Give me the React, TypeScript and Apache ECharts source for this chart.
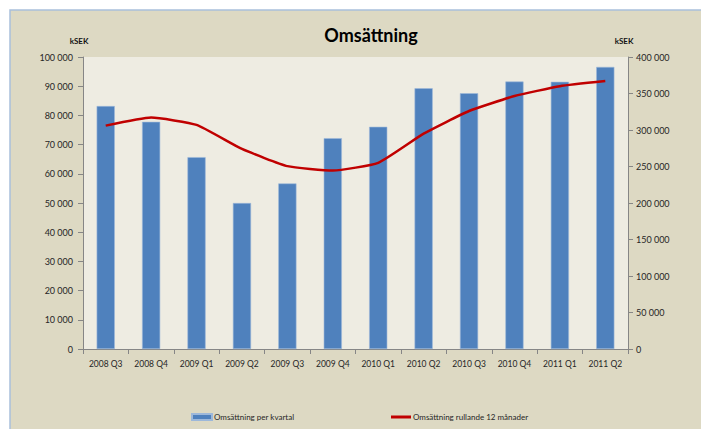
import React, { useEffect, useRef } from "react";
import * as echarts from "echarts";

const categories = [
  "2008 Q3", "2008 Q4", "2009 Q1", "2009 Q2", "2009 Q3", "2009 Q4",
  "2010 Q1", "2010 Q2", "2010 Q3", "2010 Q4", "2011 Q1", "2011 Q2",
];
const quarterly = [83200, 77800, 65700, 50000, 56700, 72200, 76100, 89300, 87600, 91600, 91500, 96600];
const rolling12 = [306000, 317000, 307000, 274000, 250500, 244500, 255000, 295000, 326000, 346500, 360000, 367000];
const barName = "Omsättning per kvartal";
const lineName = "Omsättning rullande 12 månader";

const fmt = (v: number) => {
  const s = String(Math.round(v));
  return s.replace(/\B(?=(\d{3})+(?!\d))/g, "\u202F");
};

export default function App() {
  const ref = useRef<HTMLDivElement>(null);
  useEffect(() => {
    document.body.style.margin = "0";
    const chart = echarts.init(ref.current!, null, { renderer: "svg" });
    const font = "Lato, 'Open Sans', sans-serif";
    const txt = "#262626";
    chart.setOption({
      animation: false,
      backgroundColor: "#ffffff",
      textStyle: { fontFamily: font },
      graphic: [
        {
          type: "rect",
          shape: { x: 10, y: 10, width: 760, height: 480 },
          style: { fill: "#DDD9C3", stroke: "#A9C0DC", lineWidth: 1.5 },
          z: -10,
        },
        {
          type: "text",
          style: { text: "kSEK", x: 79, y: 41, align: "center", verticalAlign: "middle", font: `bold 8px ${font}`, fill: "#111" },
        },
        {
          type: "text",
          style: { text: "kSEK", x: 624, y: 41, align: "center", verticalAlign: "middle", font: `bold 8px ${font}`, fill: "#111" },
        },
      ],
      title: {
        text: "Omsättning",
        left: 366,
        textAlign: "center",
        top: 21,
        textStyle: { fontFamily: font, fontSize: 18, fontWeight: "bold", color: "#000" },
      },
      legend: [
        {
          data: [barName],
          left: 186,
          top: 408,
          itemWidth: 20,
          itemHeight: 6,
          textStyle: { fontSize: 8, color: txt, fontFamily: font, padding: [0, 0, 0, -3] },
          icon: "rect",
        },
        {
          data: [lineName],
          left: 386,
          top: 408,
          itemWidth: 20,
          itemHeight: 3,
          icon: "rect",
          textStyle: { fontSize: 8, color: txt, fontFamily: font, padding: [0, 0, 0, -3] },
        },
      ],
      grid: { left: 83, right: 73, top: 57, bottom: 80, show: true, backgroundColor: "#EEECE2", borderWidth: 0 },
      xAxis: {
        type: "category",
        data: categories,
        axisLine: { lineStyle: { color: "#868686", width: 1 } },
        axisTick: { show: true, length: 5, lineStyle: { color: "#868686" } },
        axisLabel: { color: txt, fontSize: 8.5, margin: 10, fontFamily: font, interval: 0 },
      },
      yAxis: [
        {
          type: "value",
          min: 0,
          max: 100000,
          interval: 10000,
          position: "left",
          axisLine: { show: true, lineStyle: { color: "#868686" } },
          axisTick: { show: true, length: 5, lineStyle: { color: "#868686" } },
          splitLine: { show: false },
          axisLabel: { color: txt, fontSize: 9, margin: 10, formatter: fmt, fontFamily: font },
        },
        {
          type: "value",
          min: 0,
          max: 400000,
          interval: 50000,
          position: "right",
          axisLine: { show: true, lineStyle: { color: "#868686" } },
          axisTick: { show: true, length: 5, lineStyle: { color: "#868686" } },
          splitLine: { show: false },
          axisLabel: { color: txt, fontSize: 9, margin: 8, formatter: fmt, fontFamily: font },
        },
      ],
      series: [
        {
          name: barName,
          type: "bar",
          data: quarterly,
          yAxisIndex: 0,
          barWidth: "40%",
          itemStyle: { color: "#4F81BD", borderColor: "#9DB8DA", borderWidth: 0.6 },
        },
        {
          name: lineName,
          type: "line",
          data: rolling12,
          yAxisIndex: 1,
          smooth: 0.15,
          symbol: "none",
          lineStyle: { color: "#C00000", width: 2.5 },
          itemStyle: { color: "#C00000" },
        },
      ],
    });
    return () => chart.dispose();
  }, []);
  return <div ref={ref} style={{ width: 701, height: 429 }} />;
}
